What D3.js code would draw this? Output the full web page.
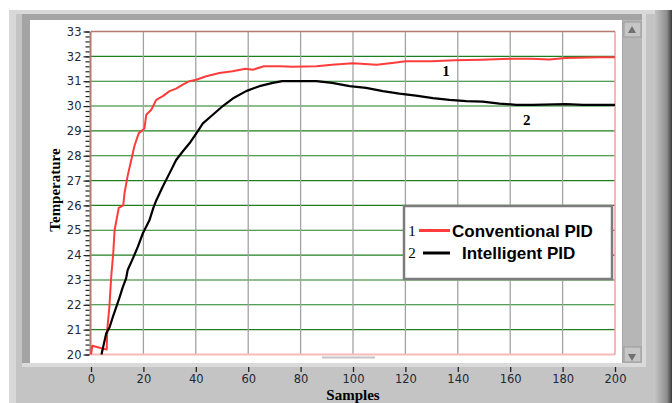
<!DOCTYPE html>
<html>
<head>
<meta charset="utf-8">
<script src="https://cdn.jsdelivr.net/npm/d3@7"></script>
<style>
  html, body { margin: 0; padding: 0; background: #fff; }
  svg { display: block; }
</style>
</head>
<body>
<svg id="chart" width="672" height="403"></svg>
<script>
// values
const samplesConventional = [0, 0.5, 4, 6, 6.2, 7, 7.7, 8.5, 9, 10.6, 12.3, 12.8, 14, 15.3, 16.6, 18.2, 20.4, 21.1, 23, 24.9, 27.4, 30, 32.5, 35, 37.6, 40.2, 44, 49, 54, 59, 61.8, 66, 72, 77, 86, 92, 100, 109, 115, 120, 130, 139, 149, 160, 168, 175, 181, 194, 200]
const tempConventional = [20.0, 20.35, 20.25, 20.2, 21.0, 21.9, 23.1, 24.1, 25.0, 25.9, 26.0, 26.5, 27.2, 27.8, 28.4, 28.9, 29.1, 29.65, 29.85, 30.25, 30.4, 30.6, 30.7, 30.86, 31.0, 31.06, 31.2, 31.33, 31.4, 31.5, 31.46, 31.6, 31.6, 31.58, 31.6, 31.66, 31.72, 31.66, 31.73, 31.8, 31.8, 31.84, 31.86, 31.9, 31.9, 31.87, 31.93, 31.96, 31.96]

const samplesIntelligent = [4, 5.8, 7.1, 8.3, 9.6, 10.9, 12.1, 13.4, 14, 16, 17.9, 19.8, 22.3, 23.8, 24.9, 27.4, 30, 32.5, 35, 37.6, 40.2, 42.7, 46.5, 50.3, 54.1, 59.2, 64.3, 69.4, 73, 86, 92, 98.7, 105, 111.4, 117.7, 124, 130.5, 136.8, 143.2, 149.5, 155.9, 162.3, 168.6, 181.3, 187.7, 200]
const tempIntelligent = [20.0, 20.85, 21.1, 21.5, 21.9, 22.3, 22.7, 23.06, 23.4, 23.87, 24.34, 24.88, 25.4, 25.9, 26.2, 26.76, 27.3, 27.83, 28.17, 28.5, 28.9, 29.3, 29.65, 30.0, 30.3, 30.6, 30.8, 30.93, 31.0, 31.0, 30.93, 30.8, 30.73, 30.6, 30.5, 30.42, 30.32, 30.25, 30.2, 30.18, 30.1, 30.05, 30.05, 30.08, 30.05, 30.05]

const xTicks = [0, 20, 40, 60, 80, 100, 120, 140, 160, 180, 200]
const yTicks = [20, 21, 22, 23, 24, 25, 26, 27, 28, 29, 30, 31, 32, 33]
const seriesTags = ['1', '2']
const seriesNames = ['Conventional PID', 'Intelligent PID']
const seriesColors = ['#ff3c3c', '#000000']

const svg = d3.select('#chart')
const margin = {top: 31.5, right: 57, bottom: 48.5, left: 91}
const width = 672, height = 403

// window frame, LabVIEW style
svg.append('rect').attr('x', 9).attr('y', 10).attr('width', 663).attr('height', 393).attr('fill', '#c4c4c4')
svg.append('rect').attr('x', 9).attr('y', 10).attr('width', 7).attr('height', 393).attr('fill', '#d8d8d8')
svg.append('rect').attr('x', 9).attr('y', 10).attr('width', 663).attr('height', 4).attr('fill', '#d8d8d8')
const shade = svg.append('defs').append('linearGradient').attr('id', 'rightShade')
shade.append('stop').attr('offset', '0').attr('stop-color', '#c2c2c2')
shade.append('stop').attr('offset', '0.7').attr('stop-color', '#8e8e8e')
shade.append('stop').attr('offset', '1').attr('stop-color', '#3a3a3a')
svg.append('rect').attr('x', 655).attr('y', 10).attr('width', 17).attr('height', 393).attr('fill', 'url(#rightShade)')

svg.append('rect').attr('x', 22).attr('y', 14).attr('width', 624).attr('height', 353).attr('fill', '#dadada')
svg.append('rect').attr('x', 22).attr('y', 14).attr('width', 620).attr('height', 349).attr('fill', '#a4a4a4')
svg.append('rect').attr('x', 30).attr('y', 20).attr('width', 592).attr('height', 343).attr('fill', '#ffffff')

// scrollbar
svg.append('rect').attr('x', 623).attr('y', 20).attr('width', 19).attr('height', 343).attr('fill', '#b6b6b6')
;[[624, 22, 'M632,26 L636,33 L628,33 Z'], [624, 347, 'M628,354 L636,354 L632,361 Z']].forEach(([bx, by, tri]) => {
  svg.append('rect').attr('x', bx).attr('y', by).attr('width', 17).attr('height', 15)
    .attr('fill', '#c6c6c6').attr('stroke', '#9a9a9a').attr('stroke-width', 1)
  svg.append('path').attr('d', tri).attr('fill', '#707070')
})

const x = d3.scaleLinear().domain([0, 200]).range([margin.left, width - margin.right])
const y = d3.scaleLinear().domain([20, 33]).range([height - margin.bottom, margin.top])

const plot = svg.append('g')

// grid
plot.append('g').selectAll('line').data(yTicks.slice(1, -1)).join('line')
  .attr('x1', x(0)).attr('x2', x(200))
  .attr('y1', d => y(d)).attr('y2', d => y(d))
  .attr('stroke', '#1f7f1f').attr('stroke-width', 1.1)
plot.append('g').selectAll('line').data(xTicks.slice(1, -1)).join('line')
  .attr('x1', d => x(d)).attr('x2', d => x(d))
  .attr('y1', y(33)).attr('y2', y(20))
  .attr('stroke', '#a2a2a2').attr('stroke-width', 1.3)

// plot borders
plot.append('line').attr('x1', x(0)).attr('x2', x(200)).attr('y1', y(20)).attr('y2', y(20))
  .attr('stroke', '#f6bcb6').attr('stroke-width', 2)
plot.append('line').attr('x1', x(200)).attr('x2', x(200)).attr('y1', y(33)).attr('y2', y(20))
  .attr('stroke', '#eea0a0').attr('stroke-width', 1.5)
plot.append('line').attr('x1', x(0)).attr('x2', x(200)).attr('y1', y(33)).attr('y2', y(33))
  .attr('stroke', '#b27a6c').attr('stroke-width', 1.5)
plot.append('line').attr('x1', x(0) - 0.5).attr('x2', x(0) - 0.5).attr('y1', y(33)).attr('y2', y(20))
  .attr('stroke', '#b27a6c').attr('stroke-width', 2)

// little scroll marker under the plot
svg.append('line').attr('x1', 322).attr('x2', 375).attr('y1', 357.5).attr('y2', 357.5)
  .attr('stroke', '#c4c4c4').attr('stroke-width', 2)

// axes
const tickFont = g => g.selectAll('text')
  .attr('font-family', '"DejaVu Sans", Verdana, sans-serif')
  .attr('font-size', 11.5).attr('fill', '#1e2838')

svg.append('g')
  .attr('transform', `translate(${x(0) - 1.5},0)`)
  .call(d3.axisLeft(y).tickValues(d3.range(20, 33.001, 0.2)).tickSize(4).tickFormat(''))
  .call(g => g.select('.domain').remove())
  .call(g => g.selectAll('line').attr('stroke', '#222').attr('stroke-width', 1.2))

svg.append('g')
  .attr('transform', `translate(${x(0) - 1.5},0)`)
  .call(d3.axisLeft(y).tickValues(yTicks).tickSize(6).tickPadding(2).tickFormat(d3.format('d')))
  .call(g => g.select('.domain').remove())
  .call(g => g.selectAll('line').attr('stroke', '#222').attr('stroke-width', 1.2))
  .call(tickFont)

svg.append('g')
  .attr('transform', 'translate(0,367)')
  .call(d3.axisBottom(x).tickValues(xTicks).tickSize(5).tickPadding(3))
  .call(g => g.select('.domain').remove())
  .call(g => g.selectAll('line').attr('stroke', '#222').attr('stroke-width', 1.3))
  .call(tickFont)

svg.append('text')
  .attr('x', 353).attr('y', 399.5)
  .attr('text-anchor', 'middle')
  .attr('font-family', '"Liberation Serif", "Times New Roman", serif')
  .attr('font-weight', 'bold').attr('font-size', 15)
  .text('Samples')

svg.append('text')
  .attr('transform', 'translate(60,190) rotate(-90)')
  .attr('text-anchor', 'middle')
  .attr('font-family', '"Liberation Serif", "Times New Roman", serif')
  .attr('font-weight', 'bold').attr('font-size', 15)
  .text('Temperature')

// curves
const line = d3.line().x(d => x(d[0])).y(d => y(d[1]))
const series = [
  d3.zip(samplesConventional, tempConventional),
  d3.zip(samplesIntelligent, tempIntelligent)
]
plot.selectAll('path.curve').data(series).join('path')
  .attr('class', 'curve')
  .attr('fill', 'none')
  .attr('stroke', (d, i) => seriesColors[i])
  .attr('stroke-width', (d, i) => i === 0 ? 2 : 2.2)
  .attr('stroke-linejoin', 'round')
  .attr('d', line)

// curve tags
const tagAt = [[135.5, 31.42], [166.3, 29.46]]
plot.selectAll('text.tag').data(seriesTags).join('text')
  .attr('class', 'tag')
  .attr('x', (d, i) => x(tagAt[i][0])).attr('y', (d, i) => y(tagAt[i][1]))
  .attr('text-anchor', 'middle').attr('dy', '0.35em')
  .attr('font-family', '"Liberation Serif", "Times New Roman", serif')
  .attr('font-weight', 'bold').attr('font-size', 15)
  .text(d => d)

// legend
const legend = svg.append('g')
legend.append('rect')
  .attr('x', 404).attr('y', 206).attr('width', 208).attr('height', 73)
  .attr('fill', '#fff').attr('stroke', '#7c7c7c').attr('stroke-width', 2.5)
const rows = legend.selectAll('g.row').data(seriesNames).join('g')
  .attr('class', 'row')
  .attr('transform', (d, i) => `translate(0,${i === 0 ? 230.5 : 253})`)
rows.append('text')
  .attr('x', 412).attr('dy', '0.35em').attr('text-anchor', 'middle')
  .attr('font-family', '"Liberation Serif", "Times New Roman", serif')
  .attr('font-size', 15)
  .text((d, i) => seriesTags[i])
rows.append('line')
  .attr('x1', (d, i) => i === 0 ? 419 : 423).attr('x2', 450)
  .attr('stroke', (d, i) => seriesColors[i]).attr('stroke-width', 3)
rows.append('text')
  .attr('x', (d, i) => i === 0 ? 452 : 462).attr('dy', '0.36em')
  .attr('font-family', '"Liberation Sans", Arial, sans-serif')
  .attr('font-weight', 'bold').attr('font-size', 17)
  .text(d => d)
</script>
</body>
</html>
